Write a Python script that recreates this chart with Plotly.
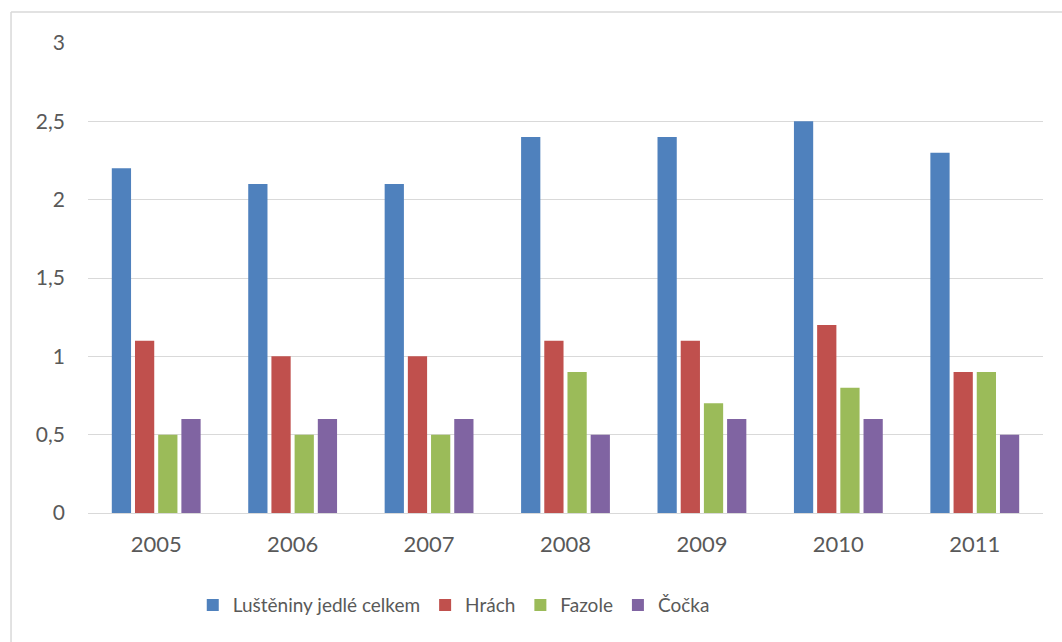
import plotly.graph_objects as go

years = ["2005", "2006", "2007", "2008", "2009", "2010", "2011"]
lusteniny = [2.2, 2.1, 2.1, 2.4, 2.4, 2.5, 2.3]
hrach = [1.1, 1.0, 1.0, 1.1, 1.1, 1.2, 0.9]
fazole = [0.5, 0.5, 0.5, 0.9, 0.7, 0.8, 0.9]
cocka = [0.6, 0.6, 0.6, 0.5, 0.6, 0.6, 0.5]

series = [
    ("Luštěniny jedlé celkem", lusteniny, "#4F81BD"),
    ("Hrách", hrach, "#C0504D"),
    ("Fazole", fazole, "#9BBB59"),
    ("Čočka", cocka, "#8064A2"),
]

fig = go.Figure()
for name, vals, color in series:
    fig.add_trace(go.Bar(x=years, y=vals, name=name, marker=dict(color=color, line=dict(width=0))))

FONT = "Lato"
fig.update_layout(
    width=1062,
    height=642,
    margin=dict(l=88, r=19, t=43, b=129),
    paper_bgcolor="white",
    plot_bgcolor="white",
    barmode="group",
    bargap=0.32,
    bargroupgap=0.17,
    separators=", ",
    font=dict(family=FONT, color="#595959", size=20),
    showlegend=True,
    legend=dict(
        orientation="h",
        x=0.383,
        xanchor="center",
        y=-0.196,
        yanchor="middle",
        font=dict(family=FONT, size=19, color="#595959"),
        itemwidth=30,
        tracegroupgap=0,
    ),
    xaxis=dict(
        showgrid=False,
        showline=True,
        linecolor="#d9d9d9",
        linewidth=1,
        ticks="",
        tickfont=dict(size=22),
        ticklabelstandoff=12,
    ),
    yaxis=dict(
        range=[0, 3],
        dtick=0.5,
        showgrid=True,
        gridcolor="#d9d9d9",
        gridwidth=1,
        zeroline=False,
        showline=False,
        ticks="",
        tickfont=dict(size=21),
        ticklabelstandoff=22,
    ),
    shapes=[
        dict(type="line", xref="paper", yref="paper", x0=-0.0806, x1=1.02, y0=1.066, y1=1.066,
             line=dict(color="#d9d9d9", width=1.5)),
        dict(type="line", xref="paper", yref="paper", x0=-0.0806, x1=-0.0806, y0=1.066, y1=-0.28,
             line=dict(color="#d9d9d9", width=1.5)),
    ],
)

fig.write_html("out.html")
